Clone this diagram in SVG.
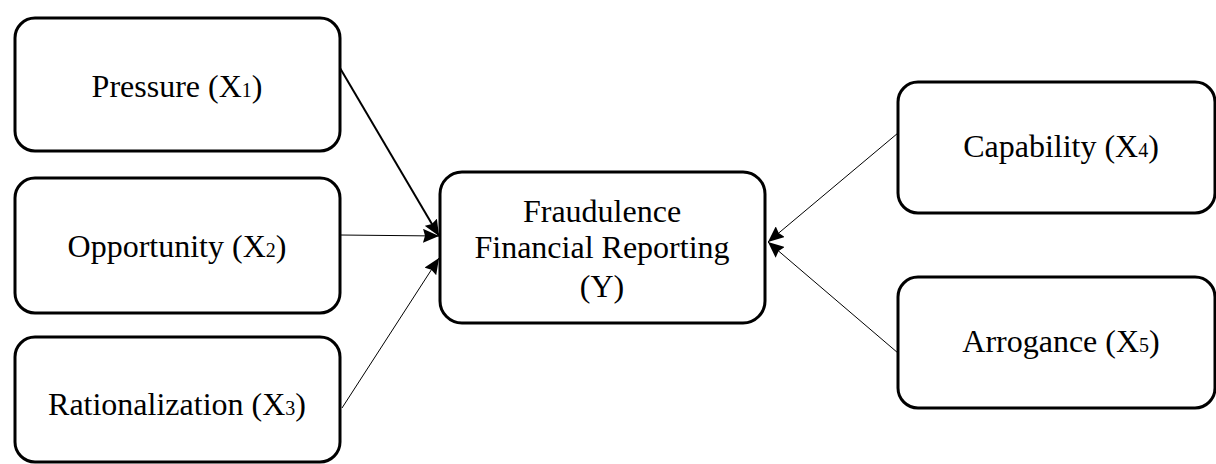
<svg xmlns="http://www.w3.org/2000/svg" width="1216" height="464" viewBox="0 0 1216 464">
<style>
.box{fill:#fff;stroke:#000;stroke-width:3}
.t{font-family:"Liberation Serif","Times New Roman",serif;font-size:32px;fill:#000;text-anchor:middle}
.s{font-size:20px}
.c{stroke:#000;fill:none}
</style>
<defs>
<marker id="ah" viewBox="0 0 16 14" refX="16" refY="7" markerWidth="16" markerHeight="14" markerUnits="userSpaceOnUse" orient="auto">
<path d="M0,0 L16,7 L0,14 L2,7 z" fill="#000"/>
</marker>
</defs>
<rect width="1216" height="464" fill="#fff"/>
<g id="connectors">
<line class="c" x1="340" y1="68" x2="439" y2="236" stroke-width="2" marker-end="url(#ah)"/>
<line class="c" x1="340" y1="235" x2="439" y2="236" stroke-width="1" marker-end="url(#ah)"/>
<line class="c" x1="342" y1="408" x2="439" y2="258" stroke-width="1" marker-end="url(#ah)"/>
<line class="c" x1="898" y1="133" x2="768" y2="242" stroke-width="1" marker-end="url(#ah)"/>
<line class="c" x1="898" y1="353" x2="768" y2="242" stroke-width="1" marker-end="url(#ah)"/>
</g>
<g id="pressure">
<rect class="box" x="15" y="18" width="325" height="133" rx="20"/>
<text class="t" x="177" y="97">Pressure (X<tspan class="s">1</tspan>)</text>
</g>
<g id="opportunity">
<rect class="box" x="15" y="178" width="325" height="135" rx="20"/>
<text class="t" x="177" y="257">Opportunity (X<tspan class="s">2</tspan>)</text>
</g>
<g id="rationalization">
<rect class="box" x="15" y="337" width="325" height="125" rx="20"/>
<text class="t" x="177" y="415">Rationalization (X<tspan class="s">3</tspan>)</text>
</g>
<g id="fraud">
<rect class="box" x="440" y="172" width="325" height="151" rx="22"/>
<text class="t" x="602" y="222">Fraudulence</text>
<text class="t" x="602" y="258">Financial Reporting</text>
<text class="t" x="602" y="297">(Y)</text>
</g>
<g id="capability">
<rect class="box" x="898" y="82" width="317" height="131" rx="20"/>
<text class="t" x="1061" y="157">Capability (X<tspan class="s">4</tspan>)</text>
</g>
<g id="arrogance">
<rect class="box" x="898" y="277" width="317" height="131" rx="20"/>
<text class="t" x="1061" y="352">Arrogance (X<tspan class="s">5</tspan>)</text>
</g>
</svg>
